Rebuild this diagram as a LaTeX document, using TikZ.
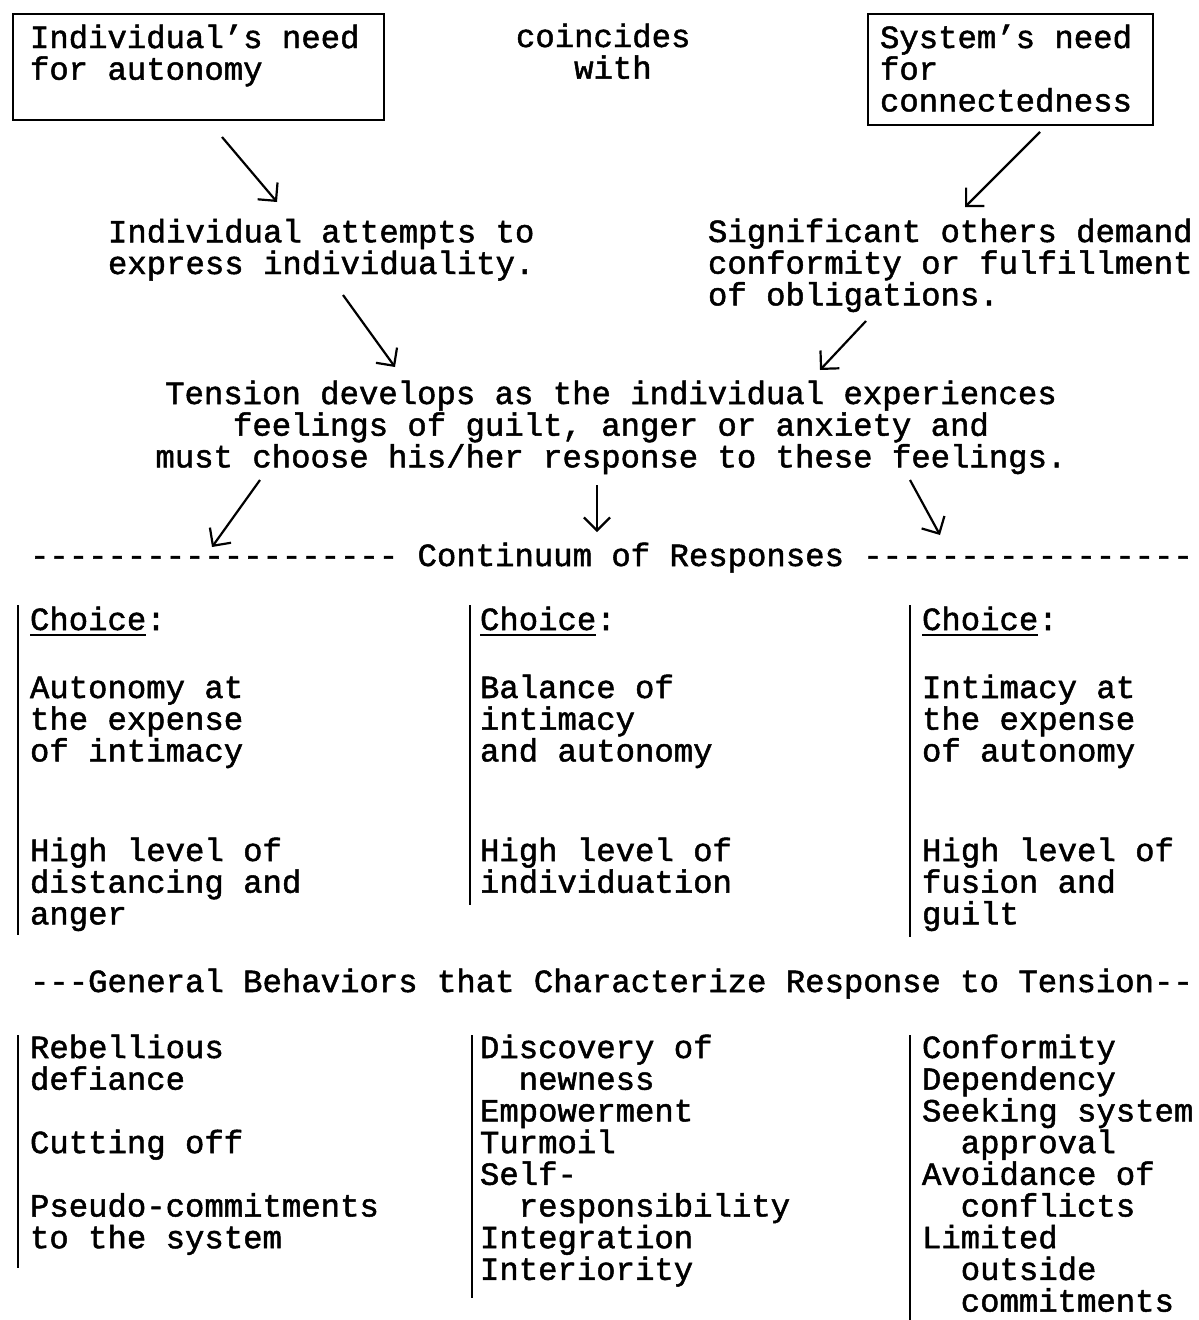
\documentclass[tikz,border=0pt]{standalone}
\usepackage{fontspec}
\setmonofont[FakeBold=1.5]{Liberation Mono}
\usetikzlibrary{arrows.meta,calc}
% underlined heading used at the top of each choice column
\newcommand\UnderChoice{\rlap{\rule[-6pt]{116.3pt}{2pt}}Choice:}
\begin{document}
% multi-line nodes are placed by the baseline of their last line
\begin{tikzpicture}[x=1pt,y=-1pt,
  txt/.style={inner sep=0pt, outer sep=0pt, align=left, anchor=base west,
    font=\ttfamily\fontsize{32.3pt}{31.7pt}\selectfont},
  ctxt/.style={txt, align=center, anchor=base},
  needbox/.style={draw, line width=2pt, inner sep=0pt, anchor=north west},
  arr/.style={-{Straight Barb[length=13pt,width=26pt,line width=2.2pt]}, line width=2.2pt},
  bar/.style={line width=2.5pt}]

\useasboundingbox[fill=white] (0,0) rectangle (1199,1320);

% the two needs and the link between them
\node[needbox, minimum width=371pt, minimum height=106pt] (needA) at (12,13) {};
\node[txt] (needAtext) at (30,79.7) {Individual’s need\\for autonomy};
\node[txt] (coincide) at (516,78.7) {coincides\\\hphantom{xxx}with};
\node[needbox, minimum width=285pt, minimum height=111pt] (needB) at (867,13) {};
\node[txt] (needBtext) at (880,111.4) {System’s need\\for\\connectedness};

% what each side does
\node[txt] (attempts) at (108,274) {Individual attempts to\\express individuality.};
\node[txt] (demand) at (708,305.4) {Significant others demand\\conformity or fulfillment\\of obligations.};

% resulting tension
\node[ctxt] (tension) at (611,467.4) {Tension develops as the individual experiences\\feelings of guilt, anger or anxiety and\\must choose his/her response to these feelings.};

\node[txt] (continuum) at (30,566) {------------------- Continuum of Responses -----------------};

% choice columns
\node[txt] (choiceA) at (30,630) {\UnderChoice};
\node[txt] (choiceB) at (480,630) {\UnderChoice};
\node[txt] (choiceC) at (922,630) {\UnderChoice};

\node[txt] (optA) at (30,761.4) {Autonomy at\\the expense\\of intimacy};
\node[txt] (optB) at (480,761.4) {Balance of\\intimacy\\and autonomy};
\node[txt] (optC) at (922,761.4) {Intimacy at\\the expense\\of autonomy};

\node[txt] (levelA) at (30,924.4) {High level of\\distancing and\\anger};
\node[txt] (levelB) at (480,892.7) {High level of\\individuation};
\node[txt] (levelC) at (922,924.4) {High level of\\fusion and\\guilt};

\draw[bar] (18,605) -- (18,935);
\draw[bar] (470,605) -- (470,905);
\draw[bar] (910,605) -- (910,937);

\node[txt] (general) at (30,992) {---General Behaviors that Characterize Response to Tension--};

% behaviour lists
\node[txt] (behaveA) at (30,1248.2) {Rebellious\\defiance\\[31.7pt]Cutting off\\[31.7pt]Pseudo-commitments\\to the system};
\node[txt] (behaveB) at (480,1279.9) {Discovery of\\\hphantom{xx}newness\\Empowerment\\Turmoil\\Self-\\\hphantom{xx}responsibility\\Integration\\Interiority};
\node[txt] (behaveC) at (922,1311.6) {Conformity\\Dependency\\Seeking system\\\hphantom{xx}approval\\Avoidance of\\\hphantom{xx}conflicts\\Limited\\\hphantom{xx}outside\\\hphantom{xx}commitments};

\draw[bar] (18,1035) -- (18,1268);
\draw[bar] (472,1035) -- (472,1298);
\draw[bar] (910,1035) -- (910,1320);

% connectors
\draw[arr] ([shift={(210,16)}]needA.south west) -- ([shift={(169,-72)}]attempts.base west);
\draw[arr] ([shift={(173,6)}]needB.south west) -- ([shift={(257,-98.4)}]demand.base west);
\draw[arr] ([shift={(235,21)}]attempts.base west) -- ([shift={(-216,-100.4)}]tension.base);
\draw[arr] ([shift={(158,15.6)}]demand.base west) -- ([shift={(209,-97.4)}]tension.base);
\draw[arr] ([shift={(-351,12.6)}]tension.base) -- ([shift={(182,-19)}]continuum.base west);
\draw[arr] ([shift={(-14,17.6)}]tension.base) -- ([shift={(567,-34)}]continuum.base west);
\draw[arr] ([shift={(299,12.6)}]tension.base) -- ([shift={(910,-31)}]continuum.base west);
\end{tikzpicture}
\end{document}
